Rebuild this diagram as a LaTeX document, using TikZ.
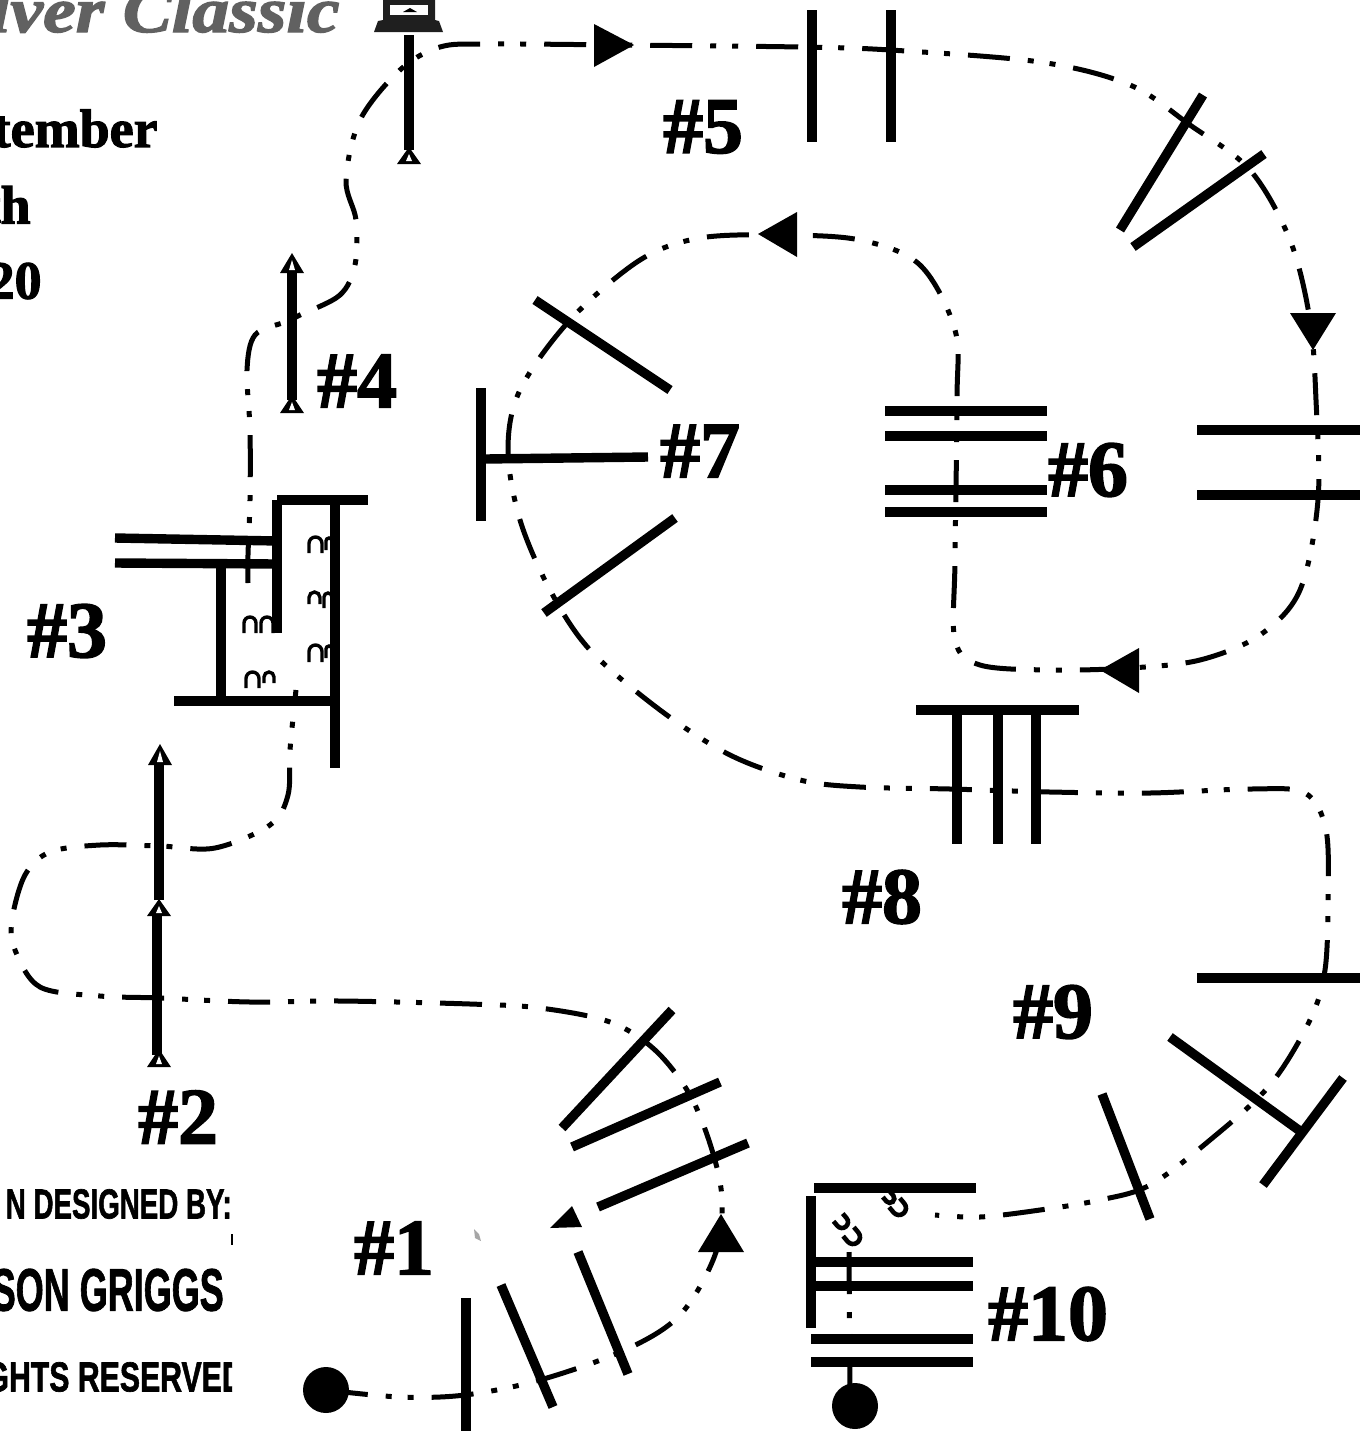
\documentclass[tikz,border=0pt]{standalone}
\usepackage{fontspec}
\usetikzlibrary{positioning}
\newfontfamily\creditfont[FakeBold=1.6]{Liberation Sans}
\newfontfamily\headfont[FakeBold=2]{Liberation Serif}
\tikzset{
  track/.style={line width=2.5pt,dash pattern=on 21pt off 9pt on 3pt off 8pt on 3pt off 9pt},
  wall/.style={line width=4.7pt},
  pegline/.style={line width=4.7pt},
  hump/.style={line width=1.7pt},
  bighump/.style={line width=2.3pt},
  ball/.style={circle,fill=black,minimum size=23pt,inner sep=0pt},
  holelbl/.style={font=\fontsize{40}{42}\headfont\bfseries\selectfont,inner sep=0pt},
  datelbl/.style={font=\fontsize{27}{29}\headfont\bfseries\selectfont,anchor=east,inner sep=0pt},
  creditlbl/.style={anchor=east,inner sep=0pt},
}
\begin{document}
\begin{tikzpicture}[x=0.5pt,y=-0.5pt]
  \useasboundingbox (0,0) rectangle (1372,1431);
  % top left heading
  \node[font=\fontsize{32}{34}\headfont\bfseries\itshape\selectfont,text=black!62,anchor=base east,inner sep=0pt,xscale=1.15,transform shape] (title) at (340,32) {lver Classic};
  \fill[black!88] (374,32) -- (378,21) -- (383,20) -- (383,0) -- (435,0) -- (435,20) -- (439,21) -- (443,32) -- cycle;
  \fill[white] (390,5) rectangle (428,15);
  \fill[black] (403,12) -- (410,8) -- (417,12) -- cycle;
  \node[datelbl] (month) at (158,134) {ptember};
  \node[datelbl] (day) at (31,205) {th};
  \node[datelbl] (year) at (42,281) {20};
  % credits, cut off at the right
  \begin{scope}
    \clip (0,1150) rectangle (232,1431);
    \node[creditlbl,font=\creditfont\bfseries\fontsize{21}{23}\selectfont,xscale=0.66,transform shape] (credA) at (232,1204) {N DESIGNED BY:};
    \node[creditlbl,font=\creditfont\bfseries\fontsize{30}{32}\selectfont,xscale=0.6,transform shape] (credB) at (224,1290) {SON GRIGGS};
    \node[creditlbl,font=\creditfont\bfseries\fontsize{21}{23}\selectfont,xscale=0.72,transform shape] (credC) at (244,1377) {GHTS RESERVED};
  \end{scope}
  \fill (231,1234) rectangle (233,1245);
  \fill[black!35] (474,1229) -- (479,1234) -- (481,1241) -- (475,1238) -- cycle;
  % the dashed line
  \draw[track] plot[smooth,tension=0.55] coordinates {(326,1390) (400,1397) (465,1395) (540,1380) (625,1350) (680,1315) (715,1255) (722,1200) (712,1150) (690,1095) (655,1050) (610,1022) (540,1008) (470,1004) (340,1001) (250,1002) (160,998) (100,996) (40,987) (15,950) (12,920) (25,875) (50,852) (100,845) (160,846) (215,848) (270,825) (288,795) (290,750) (296,690)};
  \draw[track] plot[smooth,tension=0.55] coordinates {(248,583) (248,555) (250,500) (250,430) (247,370) (255,335) (285,322) (300,315) (340,295) (355,265) (356,220) (346,180) (360,120) (400,70) (440,47) (490,44) (620,45) (800,47) (890,50) (1040,62) (1130,85) (1190,125) (1250,170) (1290,240) (1310,320) (1316,400) (1318,500) (1300,590) (1260,635) (1200,660) (1130,668) (1050,670) (980,665) (955,640) (955,560) (957,400) (955,330) (920,265) (860,240) (780,235) (700,238) (640,260) (570,320) (520,390) (508,450) (520,520) (550,590) (590,650) (660,710) (730,755) (800,780) (860,787) (950,789) (1050,792) (1150,793) (1250,789) (1305,793) (1326,830) (1328,900) (1325,970) (1310,1020) (1270,1085) (1210,1140) (1150,1185) (1100,1200) (1040,1210) (980,1217) (935,1215)};
  \draw[track] (849,1252) -- (850,1400);
  % arrowheads
  \foreach \ax/\ay/\bx/\by/\cx/\cy in {594/24/634/45/594/67, 1290/313/1336/313/1313/350, 1139/648/1139/693/1100/670,
      797/212/797/257/758/234, 698/1252/744/1252/721/1214, 550/1228/582/1227/572/1206}{
    \fill (\ax,\ay) -- (\bx,\by) -- (\cx,\cy) -- cycle;
  }
  % pegs
  \foreach \x/\ya/\yb in {157/1055/915, 159/900/765, 292/400/270, 409/150/35}{
    \draw[pegline] (\x,\ya) -- (\x,\yb);
  }
  \foreach \x/\tip/\base in {159/1049/1067, 159/899/916, 160/744/765, 292/253/273, 292/395/413, 409/147/164}{
    \fill (\x-12,\base) -- (\x,\tip) -- (\x+12,\base) -- cycle;
    \fill[white] (\x-3,\base-3) -- (\x,\tip+7) -- (\x+3,\base-3) -- cycle;
  }
  % walls
  \foreach \ax/\ay/\bx/\by in {
      466/1298/466/1431, 501/1285/553/1407, 578/1252/628/1374,
      598/1207/748/1143, 572/1147/720/1082, 562/1128/672/1010,
      115/538/278/541, 115/563/278/564, 221/564/221/700, 277/500/277/633, 277/500/368/500, 335/500/335/768, 174/701/335/701,
      812/10/812/142, 891/10/891/142, 1203/95/1120/230, 1264/154/1133/247,
      1197/430/1360/430, 1197/495/1360/495, 885/411/1047/411, 885/436/1047/436, 885/490/1047/490, 885/512/1047/512,
      535/300/670/390, 481/388/481/521, 485/459/648/457, 675/518/544/613,
      916/710/1079/710, 957/710/957/844, 998/710/998/844, 1036/710/1036/844,
      1197/978/1360/978, 1170/1037/1300/1131, 1343/1078/1263/1185, 1102/1094/1150/1219,
      814/1188/976/1188, 811/1196/811/1328, 815/1262/973/1262, 815/1286/973/1286, 811/1339/973/1339, 811/1362/973/1362}{
    \draw[wall] (\ax,\ay) -- (\bx,\by);
  }
  % little marks inside the walls
  \foreach \x/\y/\w/\h in {
      309/537/13/16, 326/538/6/12, 309/592/11/12, 324/593/8/15, 309/645/13/17, 326/646/6/12,
      246/672/13/16, 264/672/10/11, 244/617/12/16, 261/617/12/16}{
    \draw[hump] (\x,\y+\h) -- (\x,\y+\w/2) arc[start angle=180,end angle=360,radius={\w/2}] -- (\x+\w,\y+\h);
  }
  \foreach \x/\y/\w/\h in {892/1201/14/14, 885/1193/9/10, 846/1230/14/14, 836/1216/12/12}{
    \draw[bighump,rotate around={220:(\x+\w/2,\y+\h/2)}] (\x,\y+\h) -- (\x,\y+\w/2) arc[start angle=180,end angle=360,radius={\w/2}] -- (\x+\w,\y+\h);
  }
  \node[ball] (start) at (326,1390) {};
  \node[ball] (finish) at (855,1406) {};
  % hole numbers
  \foreach \n/\x/\y in {1/394/1248, 2/178/1117, 3/67/631, 4/357/381, 5/703/127, 6/1088/470, 7/700/451, 8/882/897, 9/1053/1012, 10/1048/1314}{
    \node[holelbl] (hole\n) at (\x,\y) {\#\n};
  }
\end{tikzpicture}
\end{document}
